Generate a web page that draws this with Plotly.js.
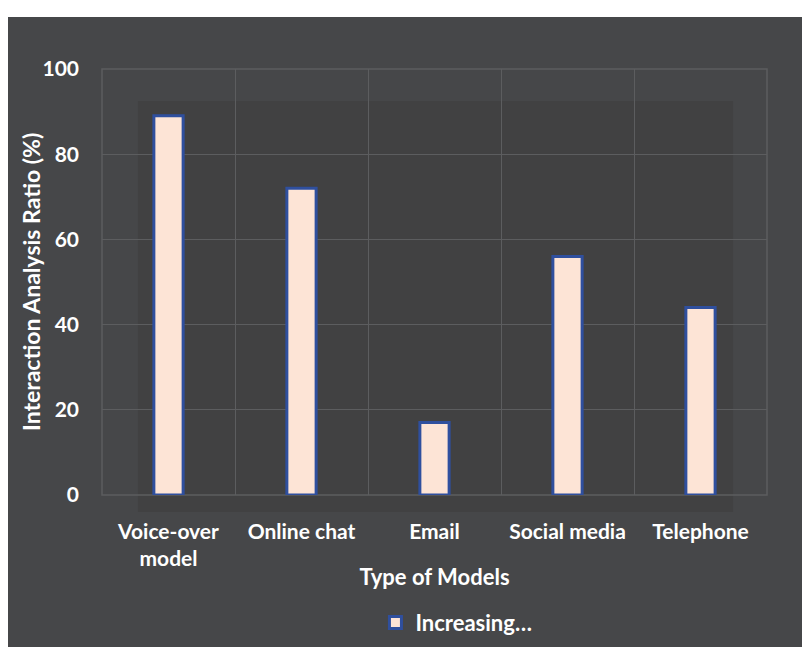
<!DOCTYPE html>
<html>
<head>
<meta charset="utf-8">
<script src="https://cdn.plot.ly/plotly-3.0.1.min.js"></script>
<style>
  html, body { margin: 0; padding: 0; background: #ffffff; }
  #frame { position: absolute; left: 8px; top: 17px; width: 794px; height: 630px; background: #464749; }
  #chart { width: 794px; height: 630px; }
</style>
</head>
<body>
<div id="frame"><div id="chart"></div></div>
<script>
const categories = ["Voice-over<br>model", "Online chat", "Email", "Social media", "Telephone"];
const ratioValues = [89, 72, 17, 56, 44];
const seriesName = "Increasing\u2026";
const yTickValues = [0, 20, 40, 60, 80, 100];
const yTitleText = "Interaction Analysis Ratio (%)";
const xTitleText = "Type of Models";

const fontFam = "Lato, 'Open Sans', 'DejaVu Sans', sans-serif";

const trace = {
  type: "bar",
  x: categories,
  y: ratioValues,
  name: seriesName,
  width: 0.22,
  marker: { color: "#fde4d6", line: { color: "#2f4f9e", width: 3 } },
  showlegend: true,
  hoverinfo: "x+y"
};

const layout = {
  width: 794,
  height: 630,
  paper_bgcolor: "#464749",
  plot_bgcolor: "#464749",
  margin: { l: 94, r: 35, t: 52, b: 152, autoexpand: false },
  font: { family: fontFam, color: "#ffffff", size: 21, weight: "bold" },
  bargap: 0.78,
  xaxis: {
    type: "category",
    tickson: "boundaries",
    automargin: false,
    showgrid: true,
    gridcolor: "#5c5d5f",
    gridwidth: 1,
    showline: false,
    zeroline: false,
    ticks: "",
    ticklabelstandoff: 22,
    tickfont: { family: fontFam, size: 21, color: "#ffffff", weight: "bold" },
    title: { text: xTitleText, font: { family: fontFam, size: 22, color: "#ffffff", weight: "bold" }, standoff: 0 },
    range: [-0.5, 4.5]
  },
  yaxis: {
    range: [0, 100],
    tickvals: yTickValues,
    automargin: false,
    showgrid: true,
    gridcolor: "#5c5d5f",
    gridwidth: 1,
    zeroline: false,
    showline: false,
    ticks: "",
    ticklabelstandoff: 22,
    tickfont: { family: fontFam, size: 21, color: "#ffffff", weight: "bold" }
  },
  annotations: [
    { text: yTitleText, xref: "paper", yref: "paper", x: -0.1068, y: 0.5,
      xanchor: "center", yanchor: "middle", textangle: -90, showarrow: false,
      font: { family: fontFam, size: 23, color: "#ffffff", weight: "bold" } }
  ],
  shapes: [
    { type: "rect", xref: "paper", yref: "paper", x0: 0.054, x1: 0.949, y0: -0.04, y1: 0.925,
      fillcolor: "#414142", line: { width: 0 }, layer: "below" },
    { type: "rect", xref: "paper", yref: "paper", x0: 0, x1: 1, y0: 0, y1: 1,
      fillcolor: "rgba(0,0,0,0)", line: { color: "#5c5d5f", width: 1.5 }, layer: "below" }
  ],
  legend: {
    orientation: "h",
    x: 0.533, xanchor: "center",
    y: -0.30, yanchor: "middle",
    font: { family: fontFam, size: 22, color: "#ffffff", weight: "bold" },
    bgcolor: "rgba(0,0,0,0)"
  }
};

Plotly.newPlot("chart", [trace], layout, { displayModeBar: false, staticPlot: true });
</script>
</body>
</html>
